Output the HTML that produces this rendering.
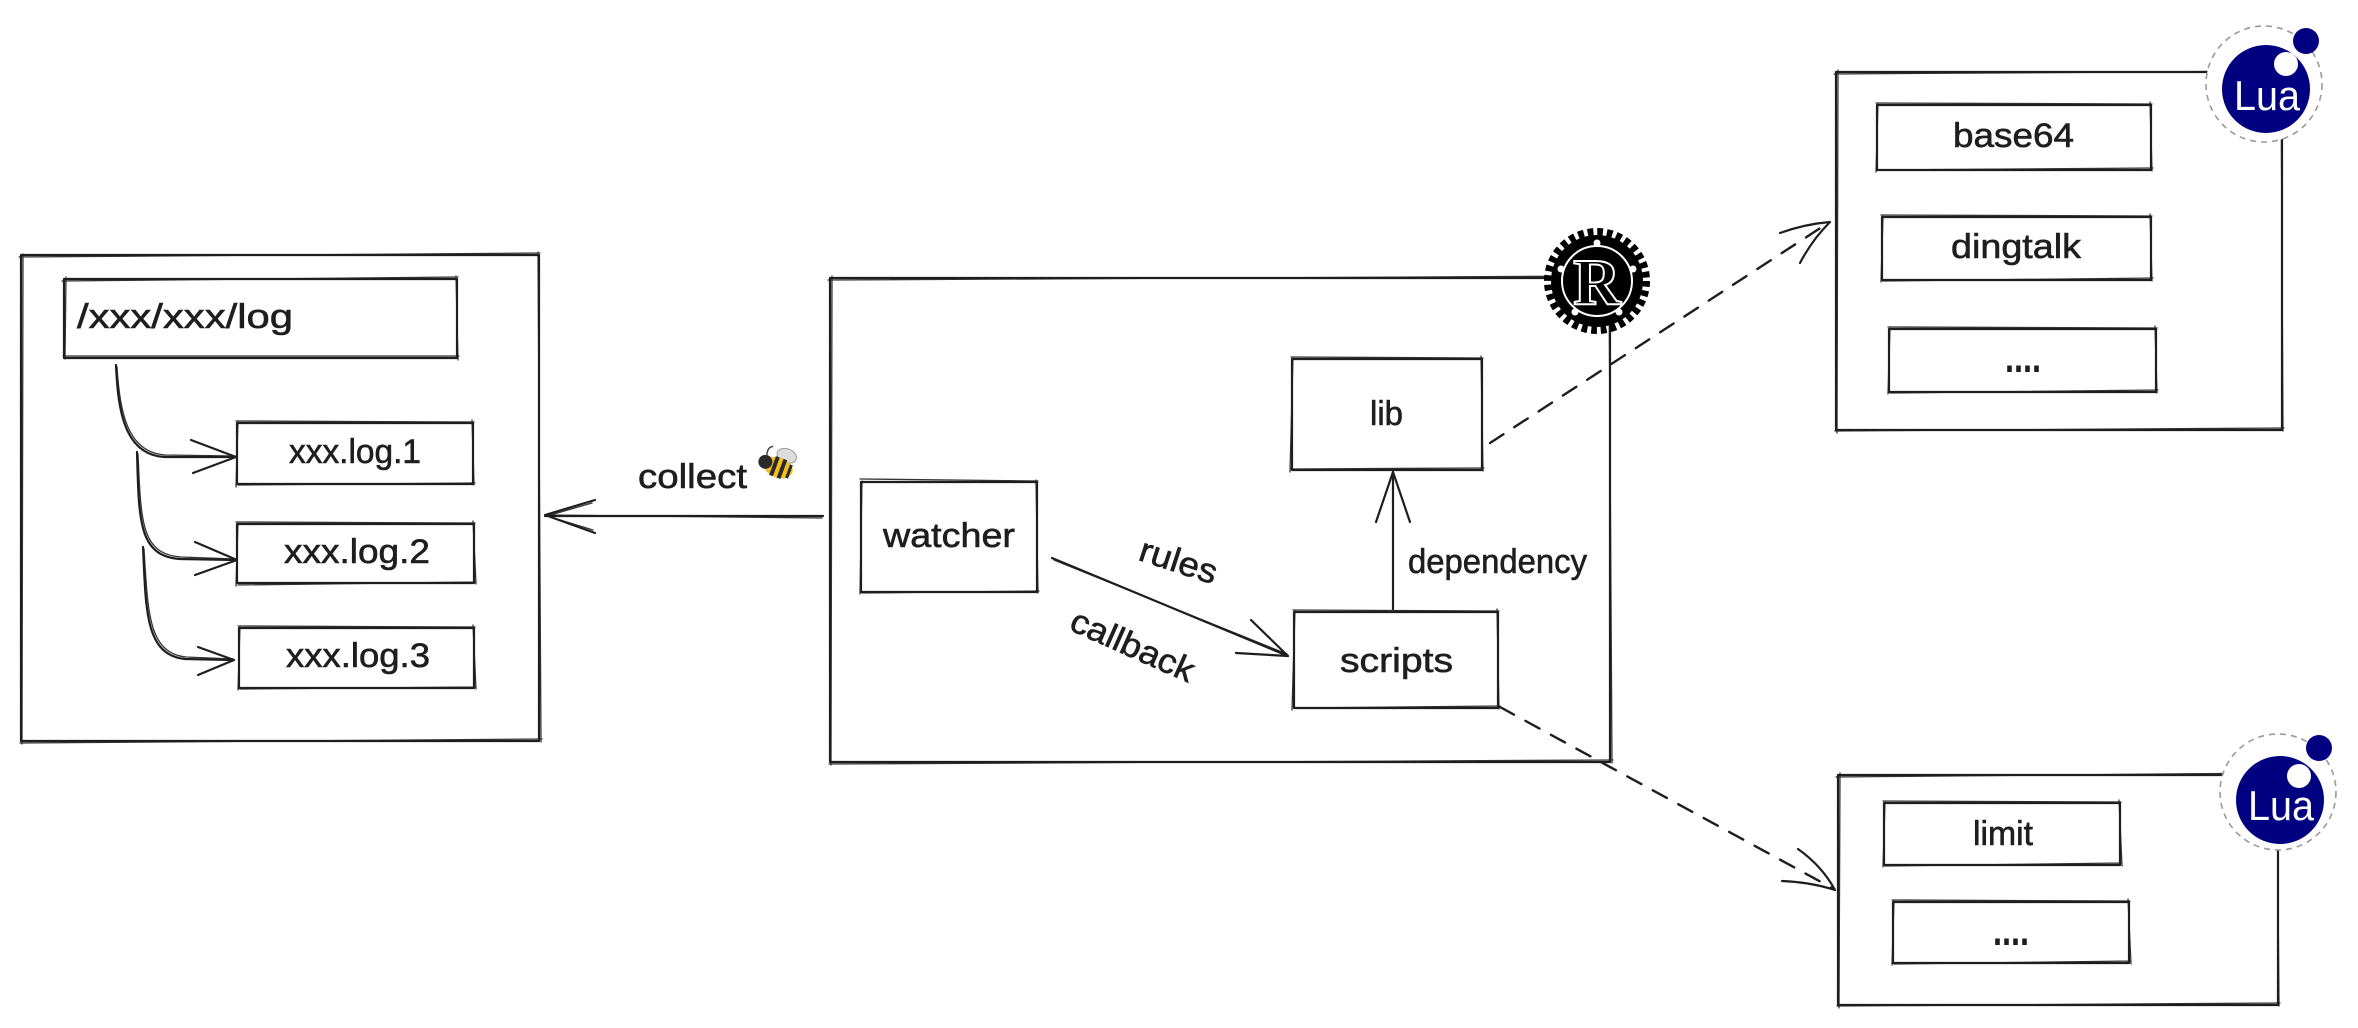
<!DOCTYPE html>
<html>
<head>
<meta charset="utf-8">
<style>
  html, body { margin: 0; padding: 0; background: #ffffff; }
  body { width: 2358px; height: 1028px; overflow: hidden; }
  svg { display: block; }
  .s { fill: none; stroke: #1e1e1e; stroke-width: 2.2; stroke-linecap: round; stroke-linejoin: round; }
  .s2 { fill: none; stroke: #1e1e1e; stroke-width: 1.3; stroke-linecap: round; stroke-linejoin: round; opacity: 0.9; }
  .t { font-family: "Liberation Sans", "DejaVu Sans", sans-serif; font-size: 34px; fill: #1e1e1e; stroke: #1e1e1e; stroke-width: 0.6; }
  .dots { font-family: "Liberation Sans", "DejaVu Sans", sans-serif; font-size: 44px; font-weight: bold; fill: #1e1e1e; }
  .d { fill: none; stroke: #1e1e1e; stroke-width: 2.4; stroke-dasharray: 16 13; stroke-linecap: round; }
</style>
</head>
<body>
<svg width="2358" height="1028" viewBox="0 0 2358 1028" xmlns="http://www.w3.org/2000/svg">
  <rect x="0" y="0" width="2358" height="1028" fill="#ffffff"/>

  <!-- ============ LEFT BOX ============ -->
  <rect class="s" x="21" y="255" width="518" height="486"/>
  <path class="s2" d="M19,257 L540,253 M538,252 L541,742 M542,739 L20,743 M22,744 L23,254"/>

  <rect class="s" x="64" y="279" width="393" height="79"/>
  <path class="s2" d="M62,281 L458,277 M456,276 L458,360 M459,356 L63,356 M65,359 L66,277"/>
  <text class="t" x="77" y="328" textLength="216" lengthAdjust="spacingAndGlyphs">/xxx/xxx/log</text>

  <rect class="s" x="237" y="423" width="236" height="61"/>
  <path class="s2" d="M236,421 L474,422 M472,420 L474,485 M475,483 L238,485 M236,487 L238,421"/>
  <text class="t" x="289" y="463" textLength="132" lengthAdjust="spacingAndGlyphs">xxx.log.1</text>

  <rect class="s" x="237" y="524" width="237" height="59"/>
  <path class="s2" d="M236,522 L475,523 M473,521 L476,584 M476,582 L238,585 M236,586 L238,522"/>
  <text class="t" x="284" y="563" textLength="146" lengthAdjust="spacingAndGlyphs">xxx.log.2</text>

  <rect class="s" x="239" y="628" width="235" height="60"/>
  <path class="s2" d="M238,626 L475,627 M473,625 L476,689 M476,687 L240,689 M238,690 L240,626"/>
  <text class="t" x="286" y="667" textLength="144" lengthAdjust="spacingAndGlyphs">xxx.log.3</text>

  <path class="s" d="M116,365 C118,410 124,455 165,457 L236,457"/>
  <path class="s2" d="M117,367 C120,412 127,453 166,455 L235,456"/>
  <path class="s" d="M191,440 L236,457 L193,473"/>
  <path class="s" d="M137,452 C139,520 138,556 180,559 L237,560"/>
  <path class="s2" d="M138,454 C141,522 141,554 181,557 L236,559"/>
  <path class="s" d="M195,542 L237,560 L195,575"/>
  <path class="s" d="M143,547 C146,610 145,655 185,659 L234,660"/>
  <path class="s2" d="M144,549 C148,612 148,653 186,657 L233,659"/>
  <path class="s" d="M198,647 L234,660 L198,675"/>

  <!-- collect arrow -->
  <path class="s" d="M823,516 L545,516"/>
  <path class="s2" d="M822,518 L547,515"/>
  <path class="s" d="M595,500 L545,515 L595,533"/>
  <path class="s2" d="M592,503 L547,516 L593,530"/>
  <text class="t" x="638" y="488" textLength="109" lengthAdjust="spacingAndGlyphs">collect</text>
  <g transform="translate(777,465) rotate(20)">
    <ellipse cx="6" cy="-12" rx="10" ry="7" fill="#dcdcdc" stroke="#9a9a9a" stroke-width="1"/>
    <ellipse cx="2" cy="2" rx="15" ry="10" fill="#f4c020"/>
    <rect x="-4" y="-8" width="4" height="20" fill="#2a2a2a"/>
    <rect x="4" y="-8" width="4" height="20" fill="#2a2a2a"/>
    <rect x="12" y="-5" width="3" height="14" fill="#2a2a2a"/>
    <circle cx="-12" cy="1" r="7" fill="#2a2a2a"/>
    <path d="M-13,-6 Q-15,-14 -10,-16" stroke="#444" stroke-width="1.5" fill="none"/>
  </g>

  <!-- ============ MIDDLE BOX ============ -->
  <rect class="s" x="830" y="278" width="780" height="484"/>
  <path class="s2" d="M828,280 L1611,276 M1609,276 L1612,763 M1613,760 L829,764 M831,765 L832,276"/>

  <rect class="s" x="861" y="482" width="176" height="110"/>
  <path class="s2" d="M860,479 L1038,481 M1036,480 L1038,593 M1039,591 L862,593 M860,594 L862,481"/>
  <text class="t" x="883" y="547" textLength="132" lengthAdjust="spacingAndGlyphs">watcher</text>

  <rect class="s" x="1292" y="359" width="190" height="111"/>
  <path class="s2" d="M1291,357 L1483,358 M1481,356 L1483,471 M1484,468 L1291,469 M1290,472 L1293,357"/>
  <text class="t" x="1370" y="425" textLength="33" lengthAdjust="spacingAndGlyphs">lib</text>

  <rect class="s" x="1294" y="612" width="204" height="96"/>
  <path class="s2" d="M1293,610 L1499,611 M1497,609 L1499,709 M1500,706 L1294,708 M1292,710 L1295,610"/>
  <text class="t" x="1340" y="672" textLength="113" lengthAdjust="spacingAndGlyphs">scripts</text>

  <path class="s" d="M1052,558 L1288,656"/>
  <path class="s2" d="M1054,560 L1287,654"/>
  <path class="s" d="M1251,620 L1288,656 L1236,653"/>
  <text class="t" text-anchor="middle" transform="translate(1175,572) rotate(18)" textLength="80" lengthAdjust="spacingAndGlyphs">rules</text>
  <text class="t" text-anchor="middle" transform="translate(1128,656) rotate(24)" textLength="132" lengthAdjust="spacingAndGlyphs">callback</text>

  <path class="s" d="M1393,609 L1393,472"/>
  <path class="s" d="M1376,522 L1393,472 L1410,522"/>
  <text class="t" x="1408" y="573" textLength="179" lengthAdjust="spacingAndGlyphs">dependency</text>

  <!-- Rust logo -->
  <g transform="translate(1597,281)">
    <circle cx="0" cy="0" r="48" fill="none" stroke="#000" stroke-width="10" stroke-dasharray="5.6 3.82"/>
    <circle cx="0" cy="0" r="46" fill="#000"/>
    <circle cx="0" cy="0" r="35" fill="none" stroke="#fff" stroke-width="2"/>
    <circle cx="0" cy="-38" r="3.5" fill="#fff"/>
    <circle cx="-36" cy="-12" r="3.5" fill="#fff"/>
    <circle cx="36" cy="-12" r="3.5" fill="#fff"/>
    <circle cx="-22" cy="31" r="3.5" fill="#fff"/>
    <circle cx="22" cy="31" r="3.5" fill="#fff"/>
    <text x="0" y="23" text-anchor="middle" font-family="Liberation Serif, serif" font-weight="bold" font-size="66" fill="#000" stroke="#fff" stroke-width="2">R</text>
  </g>

  <path class="d" d="M1490,443 L1828,223"/>
  <path class="s" d="M1780,233 Q1805,224 1830,222 Q1812,240 1800,263"/>
  <path class="d" d="M1500,707 L1832,888"/>
  <path class="s" d="M1798,849 Q1822,866 1835,890 Q1810,882 1782,881"/>

  <!-- ============ TOP LUA BOX ============ -->
  <rect class="s" x="1836" y="72" width="446" height="358"/>
  <path class="s2" d="M1834,74 L2283,71 M2281,70 L2283,431 M2284,428 L1835,431 M1837,433 L1838,70"/>

  <rect class="s" x="1877" y="105" width="274" height="65"/>
  <path class="s2" d="M1876,103 L2152,104 M2150,102 L2152,171 M2153,168 L1878,170 M1876,172 L1878,104"/>
  <text class="t" x="1953" y="147" textLength="121" lengthAdjust="spacingAndGlyphs">base64</text>

  <rect class="s" x="1882" y="217" width="269" height="63"/>
  <path class="s2" d="M1881,215 L2152,216 M2150,214 L2152,281 M2153,278 L1883,281 M1881,282 L1883,216"/>
  <text class="t" x="1951" y="258" textLength="130" lengthAdjust="spacingAndGlyphs">dingtalk</text>

  <rect class="s" x="1889" y="329" width="267" height="63"/>
  <path class="s2" d="M1888,327 L2157,328 M2155,326 L2157,393 M2158,390 L1890,393 M1888,394 L1890,328"/>
  <text class="dots" x="2005" y="372" textLength="36" lengthAdjust="spacingAndGlyphs">....</text>

  <circle cx="2264" cy="84" r="58" fill="#ffffff" stroke="#9a9a9a" stroke-width="1.6" stroke-dasharray="6 5"/>
  <circle cx="2266" cy="89" r="44" fill="#000080"/>
  <circle cx="2286" cy="64" r="12" fill="#ffffff"/>
  <circle cx="2306" cy="41" r="13" fill="#000080"/>
  <text x="2267" y="110" text-anchor="middle" font-family="Liberation Sans, sans-serif" font-size="42" fill="#ffffff" textLength="66" lengthAdjust="spacingAndGlyphs">Lua</text>

  <!-- ============ BOTTOM LUA BOX ============ -->
  <rect class="s" x="1838" y="775" width="440" height="230"/>
  <path class="s2" d="M1836,777 L2279,773 M2277,772 L2279,1006 M2280,1003 L1837,1006 M1839,1008 L1840,773"/>

  <rect class="s" x="1884" y="803" width="236" height="62"/>
  <path class="s2" d="M1883,801 L2121,802 M2119,800 L2122,866 M2122,863 L1885,866 M1883,867 L1885,802"/>
  <text class="t" x="1973" y="845" textLength="60" lengthAdjust="spacingAndGlyphs">limit</text>

  <rect class="s" x="1893" y="902" width="236" height="61"/>
  <path class="s2" d="M1892,900 L2130,901 M2128,899 L2131,964 M2131,961 L1894,964 M1892,965 L1894,901"/>
  <text class="dots" x="1993" y="945" textLength="36" lengthAdjust="spacingAndGlyphs">....</text>

  <circle cx="2278" cy="792" r="58" fill="#ffffff" stroke="#9a9a9a" stroke-width="1.6" stroke-dasharray="6 5"/>
  <circle cx="2280" cy="800" r="44" fill="#000080"/>
  <circle cx="2299" cy="776" r="12" fill="#ffffff"/>
  <circle cx="2319" cy="748" r="13" fill="#000080"/>
  <text x="2281" y="820" text-anchor="middle" font-family="Liberation Sans, sans-serif" font-size="42" fill="#ffffff" textLength="66" lengthAdjust="spacingAndGlyphs">Lua</text>
</svg>
</body>
</html>
